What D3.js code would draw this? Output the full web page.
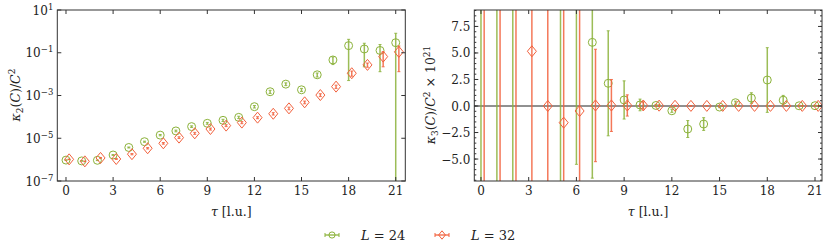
<!DOCTYPE html>
<html>
<head>
<meta charset="utf-8">
<script src="https://cdn.jsdelivr.net/npm/d3@7"></script>
<style>
  body { margin: 0; background: #fff; }
</style>
</head>
<body>
<svg id="fig" width="830" height="249" font-family="'DejaVu Serif', serif"></svg>
<script>
// tau values, L=24 at integers, L=32 shifted by 0.2
var tau24 = d3.range(0, 22);
var tau32 = tau24.map(function (t) { return t + 0.2; });

// kappa_2 / C^2 (left panel, log)
var k2L24 = [9.5e-7, 8.7e-7, 9.3e-7, 1.65e-6, 3.7e-6, 6.9e-6, 1.4e-5, 2.2e-5, 3.5e-5, 5.0e-5, 6.9e-5,
	9.5e-5, 3.0e-4, 1.5e-3, 3.4e-3, 1.85e-3, 9.3e-3, 0.046, 0.215, 0.15, 0.128, 0.295];
var k2L24err = [3e-8, 3e-8, 3e-8, 7e-8, 2e-7, 4e-7, 1e-6, 2e-6, 3e-6, 5e-6, 8e-6,
	1.2e-5, 4e-5, 2.5e-4, 5e-4, 3e-4, 2e-3, 0.018, 0.21, 0.128, 0.115, 0.52];
var k2L32 = [1.03e-6, 8.3e-7, 1.2e-6, 1.07e-6, 1.8e-6, 3.4e-6, 5.8e-6, 1.07e-5, 1.7e-5, 2.7e-5, 3.9e-5,
	5.4e-5, 9.2e-5, 1.4e-4, 2.5e-4, 4.8e-4, 1.05e-3, 2.6e-3, 0.011, 0.027, 0.066, 0.11];
var k2L32err = [3e-8, 3e-8, 5e-8, 5e-8, 1.2e-7, 2.5e-7, 5e-7, 1e-6, 1.8e-6, 3e-6, 4e-6,
	6e-6, 1e-5, 1.8e-5, 3.5e-5, 7e-5, 1.6e-4, 4.5e-4, 3e-3, 6e-3, 0.044, 0.097];

// kappa_3 / C^2 x 10^21 (right panel)
var k3L24 = [14, -12, 16, null, null, 11, 10, 6.0, 2.14, 0.57, 0.1,
	0.05, -0.45, -2.17, -1.7, -0.1, 0.31, 0.75, 2.45, 0.55, 0.02, 0.03];
var k3L24err = [30, 28, 32, null, null, 25, 15.5, 12.8, 4.95, 1.8, 0.55,
	0.1, 0.15, 0.8, 0.6, 0.06, 0.15, 0.5, 3.05, 0.45, 0.05, 0.05];
var k3L32 = [-13, 15, 12, 5.16, 0.0, -1.57, -0.47, 0.05, 0.05, 0.05, 0.05,
	0.03, 0.02, 0.01, 0.01, 0.01, 0.01, 0.01, 0.01, 0.01, 0.01, 0.01];
var k3L32err = [30, 30, 30, 20, 15, 12, 10, 5.3, 2.45, 1.0, 0.35,
	0.08, 0.05, 0.03, 0.02, 0.02, 0.02, 0.02, 0.02, 0.02, 0.02, 0.01];

var xTicks = [0, 3, 6, 9, 12, 15, 18, 21];
var k2Ticks = [1e1, 1e-1, 1e-3, 1e-5, 1e-7];
var k2TickExp = ["1", "\u22121", "\u22123", "\u22125", "\u22127"];
var k3Ticks = [7.5, 5.0, 2.5, 0.0, -2.5, -5.0];
var k3Minor = d3.range(-7, 9.01, 0.5);

var green = "#8bb23a", orange = "#f2603c";
var svg = d3.select("#fig");

function panel(opt) {
	var g = svg.append("g");
	var x = d3.scaleLinear().domain(opt.xdom).range([opt.left, opt.right]);
	var y = opt.log ? d3.scaleLog().domain(opt.ydom).range([181, 10])
		: d3.scaleLinear().domain(opt.ydom).range([181, 10]);

	var clipId = "clip" + opt.id;
	svg.append("clipPath").attr("id", clipId).append("rect")
		.attr("x", opt.left).attr("y", 10).attr("width", opt.right - opt.left).attr("height", 171);

	if (!opt.log) {
		g.append("line").attr("x1", opt.left).attr("x2", opt.right)
			.attr("y1", y(0)).attr("y2", y(0)).attr("stroke", "#222").attr("stroke-width", 1);
	}

	var plot = g.append("g").attr("clip-path", "url(#" + clipId + ")");
	opt.series.forEach(function (s) {
		var pts = s.tau.map(function (t, i) { return { t: t, v: s.v[i], e: s.e[i] }; })
			.filter(function (d) { return d.v != null; });
		var sg = plot.append("g");
		var lo = function (d) {
			var l = d.v - d.e;
			return opt.log && l <= 0 ? y.range()[0] + 20 : y(l);
		};
		sg.selectAll(".eb").data(pts).enter().append("line")
			.attr("x1", function (d) { return x(d.t); }).attr("x2", function (d) { return x(d.t); })
			.attr("y1", lo).attr("y2", function (d) { return y(d.v + d.e); })
			.attr("stroke", s.color).attr("stroke-width", 1.5).attr("stroke-opacity", 0.85);
		[function (d) { return y(d.v + d.e); }, lo].forEach(function (cy) {
			sg.selectAll(null).data(pts).enter().append("line")
				.attr("x1", function (d) { return x(d.t) - 1.5; }).attr("x2", function (d) { return x(d.t) + 1.5; })
				.attr("y1", cy).attr("y2", cy)
				.attr("stroke", s.color).attr("stroke-width", 1).attr("stroke-opacity", 0.85);
		});
		sg.selectAll(".mk").data(pts).enter().append("path")
			.attr("transform", function (d) { return "translate(" + x(d.t) + "," + y(d.v) + ")"; })
			.attr("d", s.shape)
			.attr("fill", "none").attr("stroke", s.color).attr("stroke-width", 1);
	});

	// frame
	g.append("rect").attr("x", opt.left).attr("y", 10)
		.attr("width", opt.right - opt.left).attr("height", 171)
		.attr("fill", "none").attr("stroke", "#333").attr("stroke-width", 1);

	var ticks = g.append("g").attr("stroke", "#333").attr("stroke-width", 1);
	xTicks.forEach(function (t) {
		ticks.append("line").attr("x1", x(t)).attr("x2", x(t)).attr("y1", 181).attr("y2", 177);
		ticks.append("line").attr("x1", x(t)).attr("x2", x(t)).attr("y1", 10).attr("y2", 14);
		g.append("text").attr("x", x(t)).attr("y", 195).attr("text-anchor", "middle")
			.attr("font-size", 12).attr("fill", "#222").text(t);
	});
	opt.yTicks.forEach(function (t, i) {
		ticks.append("line").attr("x1", opt.left).attr("x2", opt.left + 4).attr("y1", y(t)).attr("y2", y(t));
		ticks.append("line").attr("x1", opt.right).attr("x2", opt.right - 4).attr("y1", y(t)).attr("y2", y(t));
		var lab = g.append("text").attr("x", opt.left - 4).attr("y", y(t) + 4.5)
			.attr("text-anchor", "end").attr("font-size", 12).attr("fill", "#222");
		if (opt.log) {
			lab.append("tspan").text("10");
			lab.append("tspan").attr("dy", -5).attr("font-size", 8.5).text(k2TickExp[i]);
		} else {
			lab.text(d3.format(".1f")(t).replace("-", "\u2212"));
		}
	});
	(opt.minor || []).forEach(function (t) {
		ticks.append("line").attr("x1", opt.left).attr("x2", opt.left + 2).attr("y1", y(t)).attr("y2", y(t));
		ticks.append("line").attr("x1", opt.right).attr("x2", opt.right - 2).attr("y1", y(t)).attr("y2", y(t));
	});

	// x label
	var xl = g.append("text").attr("x", (opt.left + opt.right) / 2).attr("y", 216)
		.attr("text-anchor", "middle").attr("font-size", 12.5).attr("fill", "#222");
	xl.append("tspan").attr("font-style", "italic").text("\u03c4");
	xl.append("tspan").text(" [l.u.]");

	// y label
	var yl = g.append("text").attr("transform", "translate(" + opt.ylabX + ",95) rotate(-90)")
		.attr("text-anchor", "middle").attr("font-size", 12.5).attr("fill", "#222");
	yl.append("tspan").attr("font-style", "italic").text("\u03ba");
	yl.append("tspan").attr("dy", 3).attr("font-size", 9).text(opt.kIdx);
	yl.append("tspan").attr("dy", -3).text("(");
	yl.append("tspan").attr("font-style", "italic").text("C");
	yl.append("tspan").text(")/");
	yl.append("tspan").attr("font-style", "italic").text("C");
	yl.append("tspan").attr("dy", -5).attr("font-size", 9).text("2");
	if (opt.extra) {
		yl.append("tspan").attr("dy", 5).text(" \u00d7 10");
		yl.append("tspan").attr("dy", -5).attr("font-size", 9).text("21");
	}
}

var circle = d3.symbol().type(d3.symbolCircle).size(50)();
var diamond = "M0,-5.5L4.5,0L0,5.5L-4.5,0Z";

panel({
	id: "a", left: 57.3, right: 405.3, xdom: [-0.554, 21.61], ydom: [1e-7, 10], log: true,
	yTicks: k2Ticks, ylabX: 20, kIdx: "2",
	series: [
		{ tau: tau24, v: k2L24, e: k2L24err, color: green, shape: circle },
		{ tau: tau32, v: k2L32, e: k2L32err, color: orange, shape: diamond }
	]
});
panel({
	id: "b", left: 474.3, right: 822, xdom: [-0.42, 21.44], ydom: [-7.07, 9.05], log: false,
	yTicks: k3Ticks, minor: k3Minor, ylabX: 435, kIdx: "3", extra: true,
	series: [
		{ tau: tau24, v: k3L24, e: k3L24err, color: green, shape: circle },
		{ tau: tau32, v: k3L32, e: k3L32err, color: orange, shape: diamond }
	]
});

// legend
var leg = svg.append("g");
[{ x: 332, color: green, shape: d3.symbol().type(d3.symbolCircle).size(30)(), txt: "24" },
 { x: 442, color: orange, shape: "M0,-4.2L3.4,0L0,4.2L-3.4,0Z", txt: "32" }]
	.forEach(function (d) {
		leg.append("line").attr("x1", d.x - 7).attr("x2", d.x + 7).attr("y1", 235).attr("y2", 235)
			.attr("stroke", d.color).attr("stroke-width", 1.5).attr("stroke-opacity", 0.85);
		[d.x - 7, d.x + 7].forEach(function (cx) {
			leg.append("line").attr("x1", cx).attr("x2", cx).attr("y1", 233).attr("y2", 237)
				.attr("stroke", d.color).attr("stroke-width", 1);
		});
		leg.append("path").attr("transform", "translate(" + d.x + ",235)").attr("d", d.shape)
			.attr("fill", "none").attr("stroke", d.color).attr("stroke-width", 1);
		var t = leg.append("text").attr("x", d.x + 29).attr("y", 239.5).attr("font-size", 13).attr("fill", "#222");
		t.append("tspan").attr("font-style", "italic").text("L");
		t.append("tspan").text(" = " + d.txt);
	});
</script>
</body>
</html>
